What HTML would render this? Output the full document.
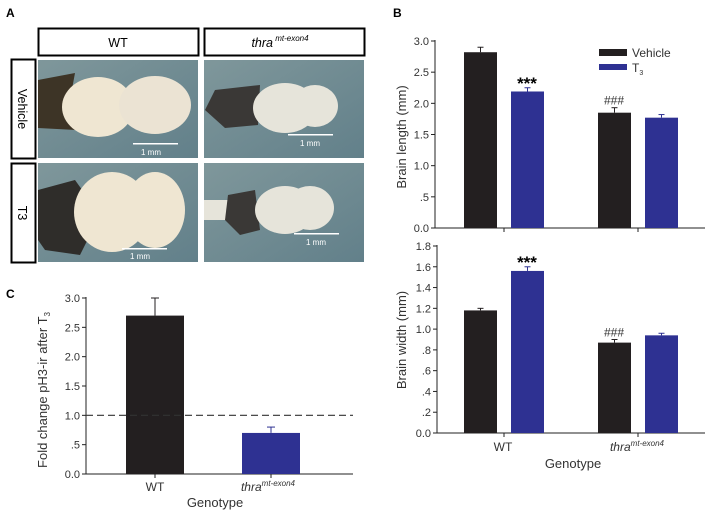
<!DOCTYPE html>
<html><head><meta charset="utf-8"><style>
body{margin:0;background:#fff}
svg{display:block;font-family:"Liberation Sans",Arial,sans-serif}
</style></head><body>
<svg id="fig" width="708" height="515" viewBox="0 0 708 515">
<defs>
<linearGradient id="bg" x1="0" y1="0" x2="1" y2="1"><stop offset="0" stop-color="#7f979b"/><stop offset="1" stop-color="#62808a"/></linearGradient>
</defs>
<text x="6" y="17" font-size="12" font-weight="bold">A</text>
<g>
<rect x="38.5" y="28.5" width="160" height="27" fill="#fff" stroke="#000" stroke-width="2"/>
<text x="118" y="47" font-size="12.5" text-anchor="middle">WT</text>
<rect x="204.5" y="28.5" width="160" height="27" fill="#fff" stroke="#000" stroke-width="2"/>
<text x="280" y="47" font-size="12.5" text-anchor="middle" font-style="italic">thra<tspan font-size="8" dy="-6"> mt-exon4</tspan></text>
<rect x="11.5" y="59.5" width="24" height="99" fill="#fff" stroke="#000" stroke-width="2"/>
<text transform="translate(18,109) rotate(90)" font-size="12.5" text-anchor="middle">Vehicle</text>
<rect x="11.5" y="163.5" width="24" height="99" fill="#fff" stroke="#000" stroke-width="2"/>
<text transform="translate(18,213) rotate(90)" font-size="12.5" text-anchor="middle">T3</text>

<g>
<rect x="38" y="60" width="160" height="98" fill="url(#bg)"/>
<polygon points="38,80 75,73 70,100 76,130 38,128" fill="#3d3426"/>
<ellipse cx="98" cy="107" rx="36" ry="30" fill="#efe6d2"/>
<ellipse cx="155" cy="105" rx="36" ry="29" fill="#ebe3d3"/>
<rect x="133" y="143" width="45" height="1.5" fill="#fff"/>
<text x="151" y="155" font-size="8" fill="#fff" text-anchor="middle">1 mm</text>
</g>
<g>
<rect x="204" y="60" width="160" height="98" fill="url(#bg)"/>
<polygon points="205,110 215,90 260,85 258,125 225,128" fill="#3a3836"/>
<ellipse cx="285" cy="108" rx="32" ry="25" fill="#e6e4da"/>
<ellipse cx="315" cy="106" rx="23" ry="21" fill="#e6e4da"/>
<rect x="288" y="134" width="45" height="1.5" fill="#fff"/>
<text x="310" y="146" font-size="8" fill="#fff" text-anchor="middle">1 mm</text>
</g>
<g>
<rect x="38" y="163" width="160" height="99" fill="url(#bg)"/>
<polygon points="38,190 75,180 100,215 80,255 45,250 38,240" fill="#2f2d2a"/>
<ellipse cx="112" cy="212" rx="38" ry="40" fill="#efe6d2"/>
<ellipse cx="155" cy="210" rx="30" ry="38" fill="#efe6d2"/>
<rect x="122" y="248" width="45" height="1.5" fill="#fff"/>
<text x="140" y="259" font-size="8" fill="#fff" text-anchor="middle">1 mm</text>
</g>
<g>
<rect x="204" y="163" width="160" height="99" fill="url(#bg)"/>
<rect x="204" y="200" width="30" height="20" fill="#e6e4da"/>
<polygon points="228,195 255,190 260,230 240,235 225,220" fill="#3a3836"/>
<ellipse cx="285" cy="210" rx="30" ry="24" fill="#e6e4da"/>
<ellipse cx="310" cy="208" rx="24" ry="22" fill="#e6e4da"/>
<rect x="294" y="233" width="45" height="1.5" fill="#fff"/>
<text x="316" y="245" font-size="8" fill="#fff" text-anchor="middle">1 mm</text>
</g>
</g>

<text x="393" y="17" font-size="12" font-weight="bold">B</text>
<text x="6" y="298" font-size="12" font-weight="bold">C</text>

<g id="bTop"></g>
<g id="bBot"></g>
<g id="cChart"></g>

<g>
<rect x="599" y="49" width="28" height="7" fill="#231f20"/>
<text x="632" y="57" font-size="12" fill="#333">Vehicle</text>
<rect x="599" y="64" width="28" height="6" fill="#2e3192"/>
<text x="632" y="72" font-size="12" fill="#333">T<tspan font-size="7" dy="3">3</tspan></text>
</g>
</svg>
<script>
const NS="http://www.w3.org/2000/svg";
const genotypes=["WT","thra"];
const lengthVehicle=[2.82,1.85];
const lengthVehicleErr=[0.08,0.08];
const lengthT3=[2.19,1.77];
const lengthT3Err=[0.06,0.05];
const lengthTicks=["0.0",".5","1.0","1.5","2.0","2.5","3.0"];
const widthVehicle=[1.18,0.87];
const widthVehicleErr=[0.02,0.03];
const widthT3=[1.56,0.94];
const widthT3Err=[0.04,0.02];
const widthTicks=["0.0",".2",".4",".6",".8","1.0","1.2","1.4","1.6","1.8"];
const foldValues=[2.7,0.7];
const foldErr=[0.3,0.1];
const foldTicks=["0.0",".5","1.0","1.5","2.0","2.5","3.0"];

function el(p,tag,attrs,name,txt){const e=document.createElementNS(NS,tag);for(const k in attrs)e.setAttribute(k,attrs[k]);


if(txt!==undefined)e.textContent=txt;p.appendChild(e);return e;}

function panelB(g,opt){
  const y=v=>opt.y0-(v/opt.max)*(opt.y0-opt.yTop);
  el(g,'line',{x1:opt.x0,y1:opt.yTop-1,x2:opt.x0,y2:opt.y0,stroke:'#222','stroke-width':1},'y-axis');
  el(g,'line',{x1:opt.x0,y1:opt.y0,x2:705,y2:opt.y0,stroke:'#222','stroke-width':1},'x-axis');
  opt.ticks.forEach(t=>{const v=parseFloat(t);const yy=y(v);
    el(g,'line',{x1:opt.x0-4,y1:yy,x2:opt.x0,y2:yy,stroke:'#222'},'y-tick');
    el(g,'text',{x:opt.x0-6,y:yy+4,'font-size':11,'text-anchor':'end',fill:'#333'},'y-tick-label',t);});
  const groupX=[504,638];
  groupX.forEach(cx=>el(g,'line',{x1:cx,y1:opt.y0,x2:cx,y2:opt.y0+4,stroke:'#222'},'x-tick'));
  const series=[[opt.veh,opt.vehE,-40,'#231f20'],[opt.t3,opt.t3E,7,'#2e3192']];
  series.forEach((s,si)=>s[0].forEach((v,i)=>{
    const x=groupX[i]+s[2];const top=y(v);
    el(g,'rect',{x:x,y:top,width:33,height:opt.y0-top,fill:s[3]},si?'bar-t3-'+genotypes[i]:'bar-vehicle-'+genotypes[i]);
    const et=y(v+s[1][i]);const cx=x+16.5;
    el(g,'line',{x1:cx,y1:top,x2:cx,y2:et,stroke:s[3]},'error-bar');
    el(g,'line',{x1:cx-3,y1:et,x2:cx+3,y2:et,stroke:s[3]},'error-cap');
  }));
  el(g,'text',{x:527,y:y(opt.t3[0]+opt.t3E[0])+1,'font-size':17,'text-anchor':'middle','font-weight':'bold'},'significance-stars','***');
  el(g,'text',{x:614,y:y(opt.veh[1]+opt.vehE[1])-3,'font-size':12,'text-anchor':'middle',fill:'#333'},'significance-hash','###');
  el(g,'text',{transform:`translate(406,${opt.labelY}) rotate(-90)`,'font-size':13,'text-anchor':'middle',fill:'#333'},'y-axis-title',opt.label);
}
panelB(document.getElementById('bTop'),{x0:435,y0:228,yTop:41,max:3.0,ticks:lengthTicks,veh:lengthVehicle,vehE:lengthVehicleErr,t3:lengthT3,t3E:lengthT3Err,label:'Brain length (mm)',labelY:137});
panelB(document.getElementById('bBot'),{x0:437,y0:433,yTop:246,max:1.8,ticks:widthTicks,veh:widthVehicle,vehE:widthVehicleErr,t3:widthT3,t3E:widthT3Err,label:'Brain width (mm)',labelY:340});
{const g=document.getElementById('bBot');
el(g,'text',{x:503,y:451,'font-size':12,'text-anchor':'middle',fill:'#333'},'x-label-wt','WT');
const t=el(g,'text',{x:637,y:451,'font-size':12,'text-anchor':'middle','font-style':'italic',fill:'#333'},'x-label-thra','thra');
const ts=document.createElementNS(NS,'tspan');ts.setAttribute('font-size','8');ts.setAttribute('dy','-5');ts.textContent='mt-exon4';t.appendChild(ts);
el(g,'text',{x:573,y:468,'font-size':13,'text-anchor':'middle',fill:'#333'},'x-axis-title','Genotype');}

{const g=document.getElementById('cChart');const x0=86,y0=474,yTop=298,max=3.0;
const y=v=>y0-(v/max)*(y0-yTop);
el(g,'line',{x1:x0,y1:yTop-1,x2:x0,y2:y0,stroke:'#222'},'y-axis');
el(g,'line',{x1:x0,y1:y0,x2:353,y2:y0,stroke:'#222'},'x-axis');
foldTicks.forEach(t=>{const yy=y(parseFloat(t));
 el(g,'line',{x1:x0-4,y1:yy,x2:x0,y2:yy,stroke:'#222'},'y-tick');
 el(g,'text',{x:x0-6,y:yy+4,'font-size':11,'text-anchor':'end',fill:'#333'},'y-tick-label',t);});
const cx=[155,271],cols=['#231f20','#2e3192'];
foldValues.forEach((v,i)=>{const top=y(v);
 el(g,'rect',{x:cx[i]-29,y:top,width:58,height:y0-top,fill:cols[i]},'bar-'+genotypes[i]);
 const et=y(v+foldErr[i]);
 el(g,'line',{x1:cx[i],y1:top,x2:cx[i],y2:et,stroke:cols[i]},'error-bar');
 el(g,'line',{x1:cx[i]-4,y1:et,x2:cx[i]+4,y2:et,stroke:cols[i]},'error-cap');
 el(g,'line',{x1:cx[i],y1:y0,x2:cx[i],y2:y0+4,stroke:'#222'},'x-tick');});
el(g,'line',{x1:x0,y1:y(1),x2:353,y2:y(1),stroke:'#333','stroke-dasharray':'7,4','stroke-width':1.2},'reference-line');
el(g,'text',{x:155,y:491,'font-size':12,'text-anchor':'middle',fill:'#333'},'x-label-wt','WT');
const t=el(g,'text',{x:268,y:491,'font-size':12,'text-anchor':'middle','font-style':'italic',fill:'#333'},'x-label-thra','thra');
const ts=document.createElementNS(NS,'tspan');ts.setAttribute('font-size','8');ts.setAttribute('dy','-5');ts.textContent='mt-exon4';t.appendChild(ts);
el(g,'text',{x:215,y:507,'font-size':13,'text-anchor':'middle',fill:'#333'},'x-axis-title','Genotype');
const yl=el(g,'text',{transform:'translate(47,390) rotate(-90)','font-size':13,'text-anchor':'middle',fill:'#333'},'y-axis-title','Fold change pH3-ir after T');
const s=document.createElementNS(NS,'tspan');s.setAttribute('font-size','8');s.setAttribute('dy','3');s.textContent='3';yl.appendChild(s);}
</script>
</body></html>
